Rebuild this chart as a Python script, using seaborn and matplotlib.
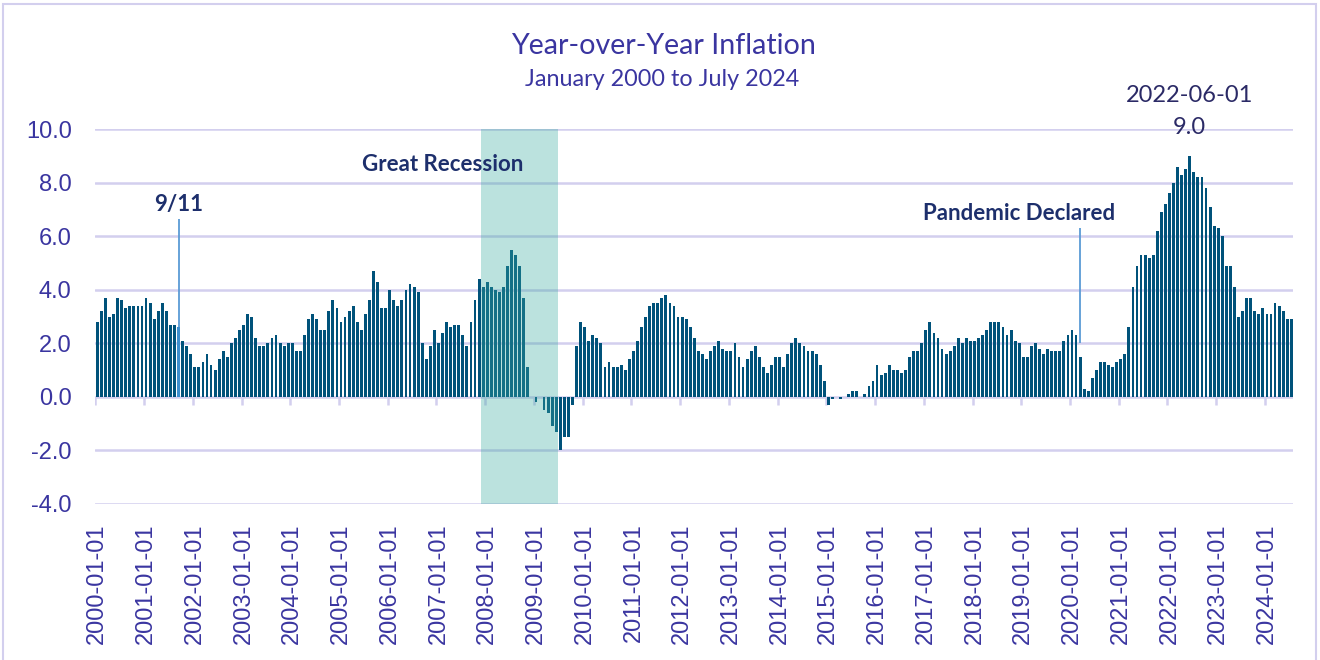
import numpy as np
import pandas as pd
import matplotlib
matplotlib.use("Agg")
import matplotlib.pyplot as plt
from matplotlib.patches import Rectangle
import seaborn as sns

# Year-over-year change in the consumer price index (%), one value per month
yoy_2000 = [2.8, 3.2, 3.7, 3.0, 3.1, 3.7, 3.6, 3.3, 3.4, 3.4, 3.4, 3.4]
yoy_2001 = [3.7, 3.5, 2.9, 3.2, 3.5, 3.2, 2.7, 2.7, 2.6, 2.1, 1.9, 1.6]
yoy_2002 = [1.1, 1.1, 1.3, 1.6, 1.2, 1.0, 1.4, 1.7, 1.5, 2.0, 2.2, 2.5]
yoy_2003 = [2.7, 3.1, 3.0, 2.2, 1.9, 1.9, 2.0, 2.2, 2.3, 2.0, 1.9, 2.0]
yoy_2004 = [2.0, 1.7, 1.7, 2.3, 2.9, 3.1, 2.9, 2.5, 2.5, 3.2, 3.6, 3.3]
yoy_2005 = [2.8, 3.0, 3.2, 3.4, 2.8, 2.5, 3.1, 3.6, 4.7, 4.3, 3.3, 3.3]
yoy_2006 = [4.0, 3.6, 3.4, 3.6, 4.0, 4.2, 4.1, 3.9, 2.0, 1.4, 1.9, 2.5]
yoy_2007 = [2.0, 2.4, 2.8, 2.6, 2.7, 2.7, 2.3, 1.9, 2.8, 3.6, 4.4, 4.1]
yoy_2008 = [4.3, 4.1, 4.0, 3.9, 4.1, 4.9, 5.5, 5.3, 4.9, 3.7, 1.1, 0.0]
yoy_2009 = [-0.2, 0.0, -0.5, -0.6, -1.1, -1.3, -2.0, -1.5, -1.5, -0.3, 1.9, 2.8]
yoy_2010 = [2.6, 2.1, 2.3, 2.2, 2.0, 1.1, 1.3, 1.1, 1.1, 1.2, 1.0, 1.4]
yoy_2011 = [1.7, 2.1, 2.6, 3.0, 3.4, 3.5, 3.5, 3.7, 3.8, 3.5, 3.4, 3.0]
yoy_2012 = [3.0, 2.9, 2.6, 2.2, 1.7, 1.6, 1.4, 1.7, 1.9, 2.1, 1.8, 1.7]
yoy_2013 = [1.7, 2.0, 1.5, 1.1, 1.4, 1.7, 1.9, 1.5, 1.1, 0.9, 1.2, 1.5]
yoy_2014 = [1.5, 1.1, 1.6, 2.0, 2.2, 2.0, 1.9, 1.7, 1.7, 1.6, 1.2, 0.6]
yoy_2015 = [-0.3, -0.1, 0.0, -0.1, 0.0, 0.1, 0.2, 0.2, 0.0, 0.1, 0.4, 0.6]
yoy_2016 = [1.2, 0.8, 0.9, 1.2, 1.0, 1.0, 0.9, 1.0, 1.5, 1.7, 1.7, 2.0]
yoy_2017 = [2.5, 2.8, 2.4, 2.2, 1.8, 1.6, 1.7, 1.9, 2.2, 2.0, 2.2, 2.1]
yoy_2018 = [2.1, 2.2, 2.3, 2.5, 2.8, 2.8, 2.8, 2.6, 2.3, 2.5, 2.1, 2.0]
yoy_2019 = [1.5, 1.5, 1.9, 2.0, 1.8, 1.6, 1.8, 1.7, 1.7, 1.7, 2.1, 2.3]
yoy_2020 = [2.5, 2.3, 1.5, 0.3, 0.2, 0.7, 1.0, 1.3, 1.3, 1.2, 1.1, 1.3]
yoy_2021 = [1.4, 1.6, 2.6, 4.1, 4.9, 5.3, 5.3, 5.2, 5.3, 6.2, 6.9, 7.2]
yoy_2022 = [7.6, 8.0, 8.6, 8.3, 8.5, 9.0, 8.4, 8.2, 8.2, 7.8, 7.1, 6.4]
yoy_2023 = [6.3, 6.0, 4.9, 4.9, 4.1, 3.0, 3.2, 3.7, 3.7, 3.2, 3.1, 3.3]
yoy_2024 = [3.1, 3.1, 3.5, 3.4, 3.2, 2.9, 2.9]

first_month = "2000-01-01"
last_month = "2024-07-01"

# Annotated events: date, label, label height, leader line bottom / top
event_dates = ["2001-09-01", "2020-03-01"]
event_labels = ["9/11", "Pandemic Declared"]
event_label_y = [7.17, 6.87]
event_label_shift = [0.0, -15.0]   # label offset from the leader line, in months
event_line_bottom = [2.6, 2.0]
event_line_top = [6.65, 6.3]

recession_start = "2007-12-01"
recession_end = "2009-06-01"
recession_label = "Great Recession"

title = "Year-over-Year Inflation"
subtitle = "January 2000 to July 2024"

# Colours
BAR = "#00527a"
EVENT_BAR = "#3d8fcf"
LEADER = "#5b9bd5"
GRID = "#d3cfee"
SHADE = "#3aab9f"
TEXT = "#3a35a0"
NAVY = "#1d2f6c"
LABEL = "#2b2a66"

values = np.concatenate([yoy_2000, yoy_2001, yoy_2002, yoy_2003, yoy_2004,
                         yoy_2005, yoy_2006, yoy_2007, yoy_2008, yoy_2009,
                         yoy_2010, yoy_2011, yoy_2012, yoy_2013, yoy_2014,
                         yoy_2015, yoy_2016, yoy_2017, yoy_2018, yoy_2019,
                         yoy_2020, yoy_2021, yoy_2022, yoy_2023, yoy_2024])
dates = pd.date_range(first_month, last_month, freq="MS")
date_str = dates.strftime("%Y-%m-%d")
n = len(dates)

df = pd.DataFrame({
    "date": date_str,
    "yoy": values,
    "kind": np.where(date_str == event_dates[0], "event", "normal"),
})

sns.set_theme(style="white")
plt.rcParams["font.family"] = ["Liberation Sans", "DejaVu Sans"]

fig = plt.figure(figsize=(13.2, 6.6), dpi=100)
ax = fig.add_axes([0.0722, 0.2368, 0.9076, 0.5673])

sns.barplot(data=df, x="date", y="yoy", hue="kind",
            palette={"normal": BAR, "event": EVENT_BAR},
            dodge=False, width=0.7, saturation=1, legend=False,
            linewidth=0, edgecolor="none", ax=ax, zorder=2)

ax.set_xlim(-0.5, n - 0.5)
ax.set_ylim(-4, 10)
yt = np.arange(-4, 10.01, 2)
ax.set_yticks(yt)
ax.set_yticklabels([f"{v:.1f}" for v in yt])
ax.yaxis.grid(True, color=GRID, lw=1.8)
ax.xaxis.grid(False)
ax.set_axisbelow(True)
for s in ax.spines.values():
    s.set_visible(False)

tick_idx = np.arange(0, n, 12)
ax.set_xticks(tick_idx)
ax.set_xticklabels(date_str[tick_idx], rotation=90)
ax.tick_params(axis="x", length=0, pad=14, labelsize=17, labelcolor=TEXT)
ax.tick_params(axis="y", length=0, pad=17, labelsize=17, labelcolor=TEXT)
ax.set_xlabel("")
ax.set_ylabel("")

# small tick marks hanging from the zero line at year boundaries
ax.vlines(tick_idx - 0.5, -0.32, 0, color=GRID, lw=1.8, zorder=1)

# recession band
i0 = int(np.where(date_str == recession_start)[0][0])
i1 = int(np.where(date_str == recession_end)[0][0])
ax.axvspan(i0 - 0.5, i1 + 0.5, color=SHADE, alpha=0.34, lw=0, zorder=3)
ax.text(85.1, 8.7, recession_label, ha="center", va="center",
        fontsize=16, fontweight="bold", color=NAVY, family="Lato", zorder=5)

# event markers
for d, lab, ly, dx, lb, lt in zip(event_dates, event_labels, event_label_y,
                                  event_label_shift, event_line_bottom, event_line_top):
    i = int(np.where(date_str == d)[0][0])
    ax.vlines(i, lb, lt, color=LEADER, lw=1.3, zorder=4)
    ax.text(i + dx, ly, lab, ha="center", va="center", fontsize=16,
            fontweight="bold", color=NAVY, family="Lato", zorder=5)

# label the peak month
ip = int(np.argmax(values))
ax.annotate(f"{values[ip]:.1f}", xy=(ip, values[ip]), xytext=(0, 18),
            textcoords="offset pixels", ha="center", va="bottom",
            fontsize=17, color=LABEL, family="Lato", annotation_clip=False)
ax.annotate(date_str[ip], xy=(ip, values[ip]), xytext=(0, 50),
            textcoords="offset pixels", ha="center", va="bottom",
            fontsize=17, color=LABEL, family="Lato", annotation_clip=False)

fig.text(0.5027, 1 - 46 / 660, title, ha="center", va="center",
         fontsize=20.6, color=TEXT, family="Lato")
fig.text(0.5019, 1 - 80 / 660, subtitle, ha="center", va="center",
         fontsize=16.8, color=TEXT, family="Lato")

# outer chart border
fig.patches.append(Rectangle((3 / 1320, -0.02), 1313 / 1320, 1.02 - 4 / 660,
                             transform=fig.transFigure, fill=False,
                             edgecolor=GRID, lw=1.5))

fig.savefig("out.png", dpi=100)
